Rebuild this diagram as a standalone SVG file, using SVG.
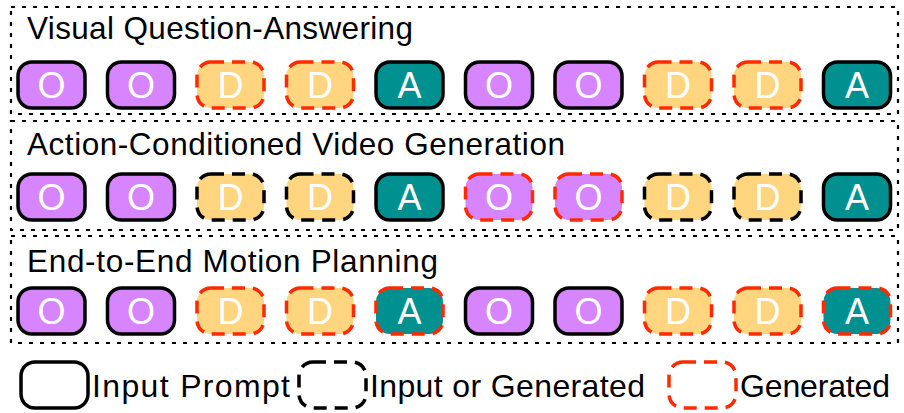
<svg xmlns="http://www.w3.org/2000/svg" width="904" height="413" viewBox="0 0 904 413">
<style>
.sec{fill:none;stroke:#000;stroke-width:2.2;stroke-dasharray:4 7}
.title{font-family:"Liberation Sans",Arial,sans-serif;font-size:31.5px;fill:#000}
.lt{font-family:"Liberation Sans",Arial,sans-serif;font-size:32px;fill:#000}
.tok{stroke-width:3.5}
.o{fill:#D785FF}
.d{fill:#FFD580}
.a{fill:#009090}
.solid{stroke:#000}
.bd{stroke:#000;stroke-dasharray:13 8}
.rd{stroke:#FF2A00;stroke-dasharray:13 8}
.lbl{font-family:"Liberation Sans",Arial,sans-serif;font-size:36px;fill:#fff;text-anchor:middle}
</style>
<defs>
<rect id="r" width="67" height="46" rx="14" ry="14"/>
</defs>
<g id="section1">
<rect class="sec" x="11" y="7" width="887" height="107"/>
<text class="title" x="27" y="39" textLength="386" lengthAdjust="spacing">Visual Question-Answering</text>
</g>
<g id="section2">
<rect class="sec" x="11" y="121" width="887" height="109"/>
<text class="title" x="27" y="155" textLength="538" lengthAdjust="spacing">Action-Conditioned Video Generation</text>
</g>
<g id="section3">
<rect class="sec" x="11" y="236" width="887" height="107"/>
<text class="title" x="27" y="272" textLength="411" lengthAdjust="spacing">End-to-End Motion Planning</text>
</g>
<g id="row1">
<g id="r1t1"><use href="#r" x="18" y="62" class="tok o solid"/><text class="lbl" x="51.5" y="98">O</text></g>
<g id="r1t2"><use href="#r" x="107.5" y="62" class="tok o solid"/><text class="lbl" x="141" y="98">O</text></g>
<g id="r1t3"><use href="#r" x="197" y="62" class="tok d rd"/><text class="lbl" x="230.5" y="98">D</text></g>
<g id="r1t4"><use href="#r" x="286.5" y="62" class="tok d rd"/><text class="lbl" x="320" y="98">D</text></g>
<g id="r1t5"><use href="#r" x="376" y="62" class="tok a solid"/><text class="lbl" x="409.5" y="98">A</text></g>
<g id="r1t6"><use href="#r" x="465.5" y="62" class="tok o solid"/><text class="lbl" x="499" y="98">O</text></g>
<g id="r1t7"><use href="#r" x="555" y="62" class="tok o solid"/><text class="lbl" x="588.5" y="98">O</text></g>
<g id="r1t8"><use href="#r" x="644.5" y="62" class="tok d rd"/><text class="lbl" x="678" y="98">D</text></g>
<g id="r1t9"><use href="#r" x="734" y="62" class="tok d rd"/><text class="lbl" x="767.5" y="98">D</text></g>
<g id="r1t10"><use href="#r" x="823.5" y="62" class="tok a solid"/><text class="lbl" x="857" y="98">A</text></g>
</g>
<g id="row2">
<g id="r2t1"><use href="#r" x="18" y="174" class="tok o solid"/><text class="lbl" x="51.5" y="210">O</text></g>
<g id="r2t2"><use href="#r" x="107.5" y="174" class="tok o solid"/><text class="lbl" x="141" y="210">O</text></g>
<g id="r2t3"><use href="#r" x="197" y="174" class="tok d bd"/><text class="lbl" x="230.5" y="210">D</text></g>
<g id="r2t4"><use href="#r" x="286.5" y="174" class="tok d bd"/><text class="lbl" x="320" y="210">D</text></g>
<g id="r2t5"><use href="#r" x="376" y="174" class="tok a solid"/><text class="lbl" x="409.5" y="210">A</text></g>
<g id="r2t6"><use href="#r" x="465.5" y="174" class="tok o rd"/><text class="lbl" x="499" y="210">O</text></g>
<g id="r2t7"><use href="#r" x="555" y="174" class="tok o rd"/><text class="lbl" x="588.5" y="210">O</text></g>
<g id="r2t8"><use href="#r" x="644.5" y="174" class="tok d bd"/><text class="lbl" x="678" y="210">D</text></g>
<g id="r2t9"><use href="#r" x="734" y="174" class="tok d bd"/><text class="lbl" x="767.5" y="210">D</text></g>
<g id="r2t10"><use href="#r" x="823.5" y="174" class="tok a solid"/><text class="lbl" x="857" y="210">A</text></g>
</g>
<g id="row3">
<g id="r3t1"><use href="#r" x="18" y="288" class="tok o solid"/><text class="lbl" x="51.5" y="324">O</text></g>
<g id="r3t2"><use href="#r" x="107.5" y="288" class="tok o solid"/><text class="lbl" x="141" y="324">O</text></g>
<g id="r3t3"><use href="#r" x="197" y="288" class="tok d rd"/><text class="lbl" x="230.5" y="324">D</text></g>
<g id="r3t4"><use href="#r" x="286.5" y="288" class="tok d rd"/><text class="lbl" x="320" y="324">D</text></g>
<g id="r3t5"><use href="#r" x="376" y="288" class="tok a rd"/><text class="lbl" x="409.5" y="324">A</text></g>
<g id="r3t6"><use href="#r" x="465.5" y="288" class="tok o solid"/><text class="lbl" x="499" y="324">O</text></g>
<g id="r3t7"><use href="#r" x="555" y="288" class="tok o solid"/><text class="lbl" x="588.5" y="324">O</text></g>
<g id="r3t8"><use href="#r" x="644.5" y="288" class="tok d rd"/><text class="lbl" x="678" y="324">D</text></g>
<g id="r3t9"><use href="#r" x="734" y="288" class="tok d rd"/><text class="lbl" x="767.5" y="324">D</text></g>
<g id="r3t10"><use href="#r" x="823.5" y="288" class="tok a rd"/><text class="lbl" x="857" y="324">A</text></g>
</g>
<g id="legend">
<g id="leg1"><use href="#r" x="21" y="362" class="tok solid" fill="none"/><text class="lt" x="92" y="397" textLength="198" lengthAdjust="spacing">Input Prompt</text></g>
<g id="leg2"><use href="#r" x="299" y="362" class="tok bd" fill="none"/><text class="lt" x="370" y="397" textLength="275" lengthAdjust="spacing">Input or Generated</text></g>
<g id="leg3"><use href="#r" x="669" y="362" class="tok rd" fill="none"/><text class="lt" x="740" y="397" textLength="150" lengthAdjust="spacing">Generated</text></g>
</g>
<g id="connectors"/>
</svg>
